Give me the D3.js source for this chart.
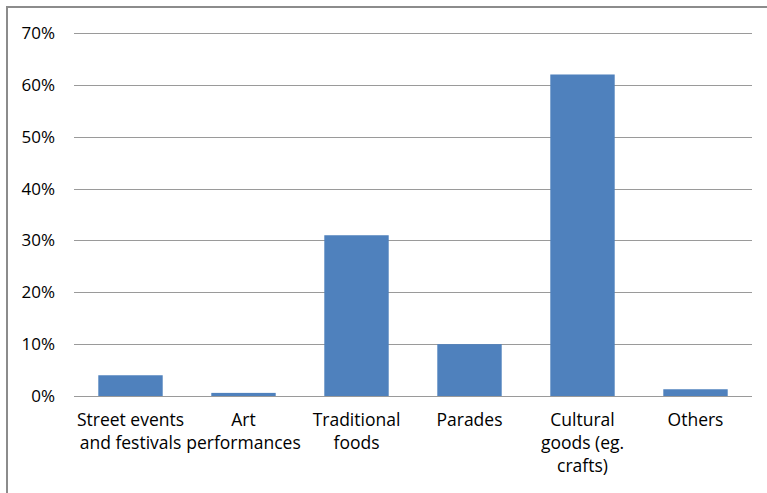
<!DOCTYPE html>
<html>
<head>
<meta charset="utf-8">
<script src="https://cdn.jsdelivr.net/npm/d3@7"></script>
<style>
  body { margin: 0; background: #fff; }
  svg { display: block; }
</style>
</head>
<body>
<script>
var w = 767;
var h = 493;

// data
var categories = [
    ["Street events", "and festivals"],
    ["Art", "performances"],
    ["Traditional", "foods"],
    ["Parades"],
    ["Cultural", "goods (eg.", "crafts)"],
    ["Others"]
];
var values = [0.04, 0.006, 0.31, 0.10, 0.62, 0.013];
var yTicks = [0, 0.1, 0.2, 0.3, 0.4, 0.5, 0.6, 0.7];

var margin = {left: 74, right: 15, top: 33, bottom: 97};
var font = "'Open Sans', Lato, sans-serif";

var svg = d3.select("body")
            .append("svg")
            .attr("width", w)
            .attr("height", h);

// outer frame: only top and left edges show
svg.append("rect")
   .attr("x", 7)
   .attr("y", 7)
   .attr("width", w + 20)
   .attr("height", h + 20)
   .attr("fill", "none")
   .attr("stroke", "#8c8c8c")
   .attr("stroke-width", 2);

var x = d3.scaleBand()
          .domain(d3.range(values.length))
          .range([margin.left, w - margin.right])
          .paddingInner(0.43)
          .paddingOuter(0.215);

var y = d3.scaleLinear()
          .domain([0, 0.7])
          .range([h - margin.bottom, margin.top]);

// gridlines
svg.append("g")
   .selectAll("line")
   .data(yTicks)
   .enter()
   .append("line")
   .attr("x1", margin.left)
   .attr("x2", w - margin.right)
   .attr("y1", function(d) { return Math.round(y(d)) + 0.5; })
   .attr("y2", function(d) { return Math.round(y(d)) + 0.5; })
   .attr("stroke", "#9a9a9a")
   .attr("stroke-width", 1);

// y axis labels
var yAxis = d3.axisLeft(y)
              .tickValues(yTicks)
              .tickFormat(d3.format(".0%"))
              .tickSize(0)
              .tickPadding(19);

svg.append("g")
   .attr("transform", "translate(" + margin.left + ",0)")
   .call(yAxis)
   .call(function(g) { g.select(".domain").remove(); })
   .selectAll("text")
   .attr("font-family", font)
   .attr("font-size", "17px")
   .attr("fill", "#000");

// bars
svg.selectAll("rect.bar")
   .data(values)
   .enter()
   .append("rect")
   .attr("class", "bar")
   .attr("x", function(d, i) { return x(i); })
   .attr("y", function(d) { return y(d); })
   .attr("width", x.bandwidth())
   .attr("height", function(d) { return y(0) - y(d); })
   .attr("fill", "#4f81bd");

// category labels
var labels = svg.append("g")
                .selectAll("text")
                .data(categories)
                .enter()
                .append("text")
                .attr("x", function(d, i) { return x(i) + x.bandwidth() / 2; })
                .attr("y", y(0) + 30)
                .attr("text-anchor", "middle")
                .attr("font-family", font)
                .attr("font-size", "17.5px")
                .attr("fill", "#000");

labels.selectAll("tspan")
      .data(function(d) { return d; })
      .enter()
      .append("tspan")
      .attr("x", function() { return d3.select(this.parentNode).attr("x"); })
      .attr("dy", function(d, i) { return i === 0 ? 0 : 23; })
      .text(function(d) { return d; });
</script>
</body>
</html>
